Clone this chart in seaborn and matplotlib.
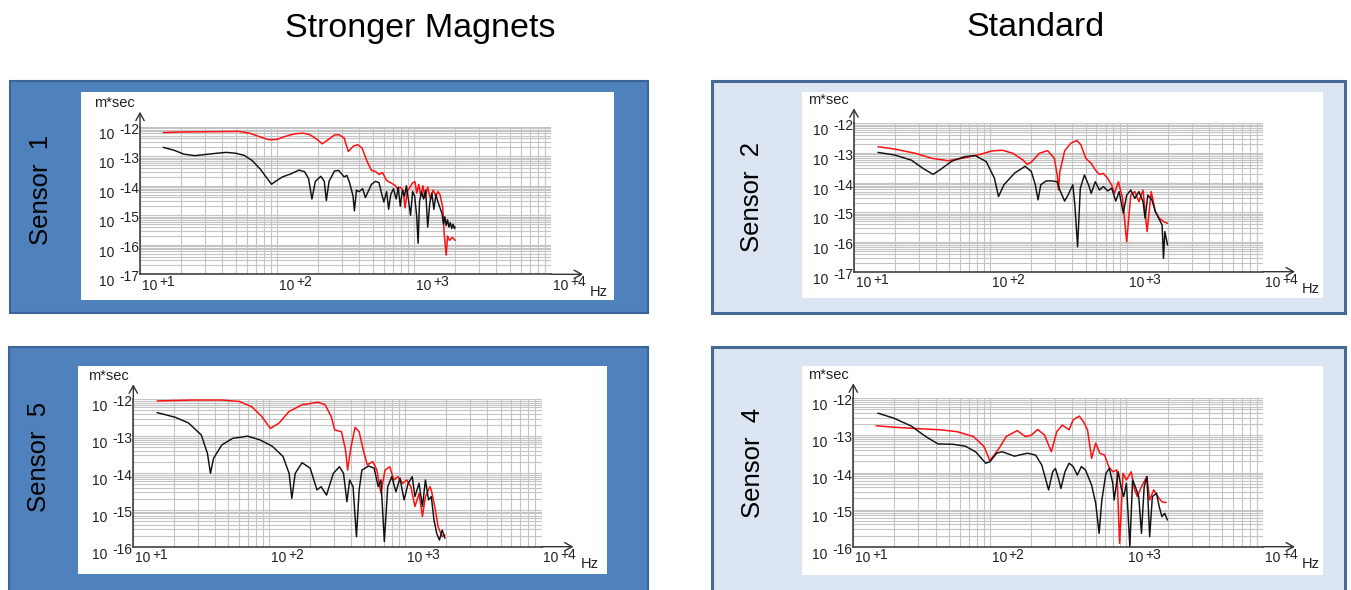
import matplotlib
matplotlib.use("Agg")
import matplotlib.pyplot as plt
from matplotlib import patches, ticker, transforms
import numpy as np
import seaborn as sns

sns.set_theme(style="white")
plt.rcParams["font.family"] = ["Liberation Sans", "DejaVu Sans"]
plt.rcParams["text.color"] = "black"

# curves: (log10 Hz, log10 m*sec)
s1_red = [(1.17, -12.20), (1.30, -12.18), (1.72, -12.16), (1.80, -12.22), (1.88, -12.35), (1.94, -12.44),
          (2.00, -12.43), (2.06, -12.33), (2.13, -12.24), (2.19, -12.22), (2.24, -12.27), (2.29, -12.42),
          (2.33, -12.58), (2.37, -12.45), (2.42, -12.28), (2.45, -12.27), (2.49, -12.38), (2.52, -12.84),
          (2.56, -12.65), (2.59, -12.61), (2.62, -12.72), (2.66, -13.20), (2.69, -13.48), (2.72, -13.52),
          (2.745, -13.62), (2.77, -13.55), (2.80, -13.82), (2.83, -13.90), (2.86, -13.98), (2.88, -14.10),
          (2.90, -14.05), (2.92, -14.15), (2.935, -14.75), (2.95, -14.20), (2.97, -14.05), (2.99, -13.90),
          (3.007, -13.86), (3.02, -14.25), (3.035, -13.95), (3.05, -14.35), (3.065, -14.00), (3.08, -14.40),
          (3.10, -14.05), (3.12, -14.45), (3.14, -14.15), (3.16, -14.35), (3.175, -14.20), (3.19, -14.30),
          (3.21, -14.75), (3.22, -15.60), (3.235, -16.35), (3.245, -15.70), (3.26, -15.85), (3.28, -15.75),
          (3.30, -15.85)]
s1_black = [(1.17, -12.70), (1.25, -12.80), (1.32, -12.93), (1.40, -12.98), (1.48, -12.94), (1.56, -12.90),
            (1.63, -12.87), (1.70, -12.90), (1.76, -12.97), (1.82, -13.15), (1.88, -13.45), (1.92, -13.70),
            (1.96, -13.95), (1.99, -13.85), (2.04, -13.70), (2.10, -13.60), (2.16, -13.47), (2.20, -13.52),
            (2.23, -13.75), (2.255, -14.45), (2.28, -13.85), (2.32, -13.68), (2.345, -13.85), (2.36, -14.50),
            (2.38, -13.85), (2.42, -13.50), (2.45, -13.48), (2.49, -13.70), (2.51, -13.65), (2.53, -13.90),
            (2.555, -14.35), (2.565, -14.85), (2.58, -14.15), (2.60, -14.20), (2.625, -14.10), (2.645, -14.40),
            (2.665, -14.20), (2.69, -13.95), (2.72, -13.85), (2.745, -13.90), (2.76, -14.20), (2.78, -14.55),
            (2.80, -14.20), (2.815, -14.80), (2.83, -14.30), (2.85, -14.10), (2.87, -14.45), (2.885, -14.05),
            (2.90, -14.70), (2.915, -14.15), (2.93, -14.35), (2.945, -14.00), (2.96, -14.50), (2.975, -15.00),
            (2.99, -14.20), (3.005, -14.35), (3.02, -15.05), (3.03, -15.95), (3.04, -14.55), (3.055, -14.20),
            (3.07, -14.45), (3.085, -14.15), (3.10, -15.40), (3.115, -14.60), (3.13, -14.25), (3.145, -14.80),
            (3.16, -14.30), (3.175, -14.55), (3.19, -14.75), (3.205, -14.95), (3.215, -15.30), (3.225, -15.05),
            (3.235, -15.35), (3.245, -15.15), (3.255, -15.40), (3.265, -15.25), (3.275, -15.45), (3.285, -15.30),
            (3.295, -15.45), (3.30, -15.40)]

s2_red = [(1.176, -12.79), (1.30, -12.87), (1.45, -13.01), (1.57, -13.18), (1.69, -13.26), (1.815, -13.16),
          (1.94, -13.03), (2.01, -12.93), (2.09, -12.91), (2.165, -13.01), (2.24, -13.24), (2.27, -13.38),
          (2.30, -13.31), (2.36, -13.01), (2.42, -12.92), (2.47, -13.18), (2.49, -13.74), (2.50, -14.25),
          (2.51, -13.63), (2.545, -12.93), (2.59, -12.67), (2.635, -12.58), (2.665, -12.73), (2.70, -13.18),
          (2.74, -13.35), (2.77, -13.57), (2.80, -13.72), (2.83, -13.69), (2.86, -13.85), (2.89, -14.08),
          (2.91, -14.36), (2.94, -13.97), (2.97, -14.53), (3.00, -15.99), (3.03, -14.42), (3.06, -14.30),
          (3.09, -14.64), (3.12, -14.25), (3.15, -15.65), (3.18, -14.30), (3.21, -14.97), (3.24, -15.20),
          (3.27, -15.31), (3.30, -15.37)]
s2_black = [(1.176, -12.98), (1.30, -13.07), (1.42, -13.24), (1.51, -13.53), (1.58, -13.72), (1.63, -13.57),
            (1.72, -13.27), (1.815, -13.12), (1.89, -13.09), (1.97, -13.29), (2.03, -13.85), (2.06, -14.47),
            (2.10, -14.07), (2.18, -13.67), (2.255, -13.45), (2.30, -13.62), (2.33, -14.07), (2.35, -14.58),
            (2.37, -14.07), (2.41, -13.94), (2.45, -13.94), (2.49, -13.97), (2.51, -14.25), (2.545, -14.62),
            (2.57, -14.42), (2.605, -14.07), (2.62, -14.75), (2.64, -16.16), (2.66, -14.19), (2.69, -13.74),
            (2.72, -14.07), (2.74, -14.36), (2.77, -13.97), (2.80, -14.25), (2.83, -14.13), (2.86, -14.28),
            (2.89, -14.19), (2.92, -14.62), (2.945, -14.30), (2.975, -15.03), (3.00, -14.42), (3.03, -14.25),
            (3.06, -14.53), (3.09, -14.30), (3.12, -14.64), (3.135, -15.20), (3.155, -14.42), (3.185, -14.58),
            (3.21, -14.97), (3.235, -15.20), (3.26, -15.43), (3.27, -16.55), (3.28, -15.65), (3.30, -16.10)]

s5_red = [(1.175, -12.045), (1.44, -12.02), (1.65, -12.02), (1.78, -12.06), (1.87, -12.20), (1.945, -12.47),
          (2.007, -12.79), (2.07, -12.65), (2.145, -12.33), (2.24, -12.15), (2.36, -12.08), (2.41, -12.15),
          (2.455, -12.47), (2.48, -12.83), (2.53, -12.88), (2.56, -13.38), (2.575, -13.92), (2.60, -13.29),
          (2.63, -12.76), (2.66, -12.88), (2.69, -13.38), (2.72, -13.78), (2.76, -13.69), (2.79, -13.92),
          (2.82, -14.55), (2.85, -13.92), (2.885, -13.83), (2.915, -14.19), (2.945, -14.10), (2.98, -14.28),
          (3.01, -14.19), (3.04, -14.37), (3.07, -14.91), (3.10, -14.55), (3.125, -15.18), (3.147, -14.64),
          (3.18, -14.37), (3.19, -14.46), (3.22, -15.00), (3.24, -15.46), (3.27, -15.73), (3.29, -15.68)]
s5_black = [(1.175, -12.36), (1.31, -12.49), (1.405, -12.64), (1.50, -12.97), (1.545, -13.47), (1.567, -14.01),
            (1.59, -13.60), (1.65, -13.24), (1.73, -13.06), (1.84, -13.00), (1.93, -13.10), (2.02, -13.27),
            (2.10, -13.55), (2.145, -14.01), (2.165, -14.69), (2.19, -14.01), (2.24, -13.72), (2.30, -13.87),
            (2.35, -14.46), (2.38, -14.37), (2.42, -14.60), (2.47, -14.01), (2.515, -13.83), (2.545, -14.01),
            (2.57, -14.78), (2.59, -14.19), (2.615, -14.37), (2.64, -15.73), (2.66, -14.46), (2.68, -13.92),
            (2.73, -13.81), (2.77, -13.87), (2.80, -14.37), (2.82, -14.19), (2.845, -15.86), (2.87, -14.37),
            (2.90, -14.10), (2.93, -14.51), (2.96, -14.14), (2.99, -14.73), (3.02, -14.28), (3.05, -14.10),
            (3.07, -14.64), (3.10, -14.28), (3.125, -14.91), (3.147, -14.19), (3.17, -14.73), (3.19, -14.64),
            (3.21, -15.28), (3.23, -15.64), (3.25, -15.82), (3.27, -15.55), (3.29, -15.77)]

s4_red = [(1.167, -12.74), (1.30, -12.78), (1.485, -12.82), (1.64, -12.85), (1.76, -12.90), (1.88, -13.03),
          (1.957, -13.30), (2.00, -13.68), (2.06, -13.39), (2.12, -13.03), (2.20, -12.87), (2.26, -13.03),
          (2.305, -12.99), (2.35, -12.84), (2.40, -12.99), (2.45, -13.44), (2.49, -12.90), (2.53, -12.72),
          (2.58, -12.85), (2.61, -12.58), (2.655, -12.48), (2.685, -12.63), (2.715, -12.85), (2.745, -13.62),
          (2.775, -13.21), (2.805, -13.48), (2.84, -13.53), (2.87, -13.84), (2.90, -13.98), (2.93, -13.93),
          (2.95, -15.91), (2.975, -14.02), (3.00, -14.20), (3.035, -13.98), (3.06, -14.47), (3.08, -14.65),
          (3.11, -14.38), (3.15, -14.11), (3.17, -14.74), (3.20, -14.47), (3.23, -14.65), (3.26, -14.79),
          (3.29, -14.81)]
s4_black = [(1.18, -12.40), (1.30, -12.54), (1.425, -12.75), (1.53, -13.03), (1.62, -13.23), (1.73, -13.24),
            (1.82, -13.29), (1.895, -13.44), (1.97, -13.75), (2.00, -13.71), (2.05, -13.48), (2.09, -13.44),
            (2.18, -13.56), (2.275, -13.48), (2.335, -13.53), (2.38, -13.80), (2.41, -14.20), (2.43, -14.47),
            (2.46, -13.98), (2.48, -13.89), (2.505, -14.20), (2.52, -14.43), (2.55, -13.98), (2.58, -13.75),
            (2.61, -13.84), (2.64, -14.07), (2.67, -13.84), (2.70, -13.93), (2.745, -14.34), (2.775, -14.83),
            (2.80, -15.64), (2.82, -14.74), (2.85, -14.02), (2.875, -13.89), (2.90, -14.29), (2.91, -14.74),
            (2.94, -13.98), (2.96, -14.38), (2.98, -14.65), (3.00, -14.29), (3.025, -16.00), (3.045, -14.20),
            (3.065, -14.38), (3.09, -14.65), (3.11, -15.64), (3.13, -14.38), (3.15, -14.11), (3.17, -15.73),
            (3.19, -14.65), (3.22, -14.56), (3.24, -14.92), (3.26, -15.19), (3.28, -15.10), (3.30, -15.28)]

titles = ["Stronger Magnets", "Standard"]
sensor_names = ["Sensor  1", "Sensor  2", "Sensor  5", "Sensor  4"]
x_decades = [1, 2, 3, 4]

W, H = 1351, 590
DARK_FILL, DARK_EDGE = "#4f81bd", "#3b6596"
LIGHT_FILL, LIGHT_EDGE = "#dce6f2", "#456a94"


def frac(x0, y0, x1, y1):
    return [x0 / W, 1 - y1 / H, (x1 - x0) / W, (y1 - y0) / H]


def fig_box(fig, box, fill, edge, lw, z):
    l, b, w, h = frac(*box)
    fig.patches.append(patches.Rectangle((l, b), w, h, transform=fig.transFigure,
                                         facecolor=fill, edgecolor=edge, lw=lw, zorder=z))


def lbl(ax, text, xy, coords, off, ha, size=10):
    ax.annotate(text, xy=xy, xycoords=coords, xytext=off, textcoords="offset pixels",
                ha=ha, va="center", fontsize=size, color="#222222", annotation_clip=False)


fig = plt.figure(figsize=(13.51, 5.90), dpi=100)
fig.patch.set_facecolor("white")

fig.text(420 / W, 1 - 28 / H, titles[0], ha="center", va="center", fontsize=24.5, color="black")
fig.text(1036 / W, 1 - 28 / H, titles[1], ha="center", va="center", fontsize=24.5, color="black")

panels = [
    # frame, dark?, white box, axes box, lowest decade, label pos, curves
    ((10, 81, 648, 313), True, (81, 92, 614, 300), (140, 126.7, 551, 274.3), -17, (41, 190), s1_red, s1_black),
    ((712, 81, 1345, 313), False, (802, 92, 1323, 298.3), (854, 123.3, 1263, 271.7), -17, (752, 197), s2_red, s2_black),
    ((9, 347, 648, 600), True, (78, 366, 607, 574), (133.3, 399.3, 541.5, 546.7), -16, (39, 457), s5_red, s5_black),
    ((712, 347, 1345, 600), False, (802, 366, 1323, 575), (853.3, 398.3, 1263, 546.7), -16, (753, 463), s4_red, s4_black),
]

for i, (frame, dark, white, abox, ylow, lpos, red, black) in enumerate(panels):
    if dark:
        fig_box(fig, frame, DARK_FILL, DARK_EDGE, 1.5, -20)
    else:
        fig_box(fig, frame, LIGHT_FILL, LIGHT_EDGE, 2.2, -20)
    fig_box(fig, white, "white", "none", 0, -19)
    fig.text(lpos[0] / W, 1 - lpos[1] / H, sensor_names[i], rotation=90,
             ha="center", va="center", fontsize=18.5, color="black")

    ax = fig.add_axes(frac(*abox))
    ax.patch.set_alpha(0)
    ax.set_xscale("log")
    ax.set_yscale("log")

    rx, ry = zip(*red)
    bx, by = zip(*black)
    sns.lineplot(x=np.power(10.0, rx), y=np.power(10.0, ry), ax=ax, color="#ff1010",
                 lw=1.1, estimator=None, sort=False)
    sns.lineplot(x=np.power(10.0, bx), y=np.power(10.0, by), ax=ax, color="#111111",
                 lw=1.05, estimator=None, sort=False)

    ax.set_xlim(10, 1e4)
    ax.set_ylim(10.0 ** ylow, 1e-12)
    ax.set_xlabel("")
    ax.set_ylabel("")
    for a in (ax.xaxis, ax.yaxis):
        a.set_major_locator(ticker.LogLocator(base=10, numticks=20))
        a.set_minor_locator(ticker.LogLocator(base=10, subs=np.arange(2, 10), numticks=20))
        a.set_minor_formatter(ticker.NullFormatter())
    ax.grid(True, which="both", color="#c4c4c4", lw=0.8)
    ax.set_axisbelow(True)
    for s in ("top", "right"):
        ax.spines[s].set_visible(False)
    for s in ("left", "bottom"):
        ax.spines[s].set_color("#333333")
        ax.spines[s].set_linewidth(1.1)
    ax.tick_params(which="both", direction="out", length=2.5, width=0.7, color="#555555",
                   labelbottom=False, labelleft=False)

    # tick labels in the "10 -12" style
    for d in range(-12, ylow - 1, -1):
        lbl(ax, "10", (0, 10.0 ** d), ("axes fraction", "data"), (-26, -8), "right")
        lbl(ax, str(d), (0, 10.0 ** d), ("axes fraction", "data"), (-1, -3), "right")
    for d in x_decades:
        lbl(ax, "10", (10.0 ** d, 0), ("data", "axes fraction"), (2, -11.5), "left")
        lbl(ax, f"+{d}", (10.0 ** d, 0), ("data", "axes fraction"), (19, -8), "left")

    # axis arrows
    aprops = dict(arrowstyle="->,head_length=0.45,head_width=0.25", color="#333333",
                  lw=1.0, shrinkA=0, shrinkB=0)
    tip_x = transforms.offset_copy(ax.transAxes, fig=fig, x=32, y=0, units="dots")
    tip_y = transforms.offset_copy(ax.transAxes, fig=fig, x=0, y=15, units="dots")
    ax.annotate("", xy=(1, 0), xycoords=tip_x, xytext=(1, 0), textcoords=ax.transAxes,
                arrowprops=aprops, annotation_clip=False)
    ax.annotate("", xy=(0, 1), xycoords=tip_y, xytext=(0, 1), textcoords=ax.transAxes,
                arrowprops=aprops, annotation_clip=False)

    lbl(ax, "m*sec", (0, 1), "axes fraction", (-5, 23.5), "right", size=10.5)
    lbl(ax, "Hz", (1, 0), "axes fraction", (39, -17.5), "left", size=10.5)

fig.savefig("out.png", dpi=100)
